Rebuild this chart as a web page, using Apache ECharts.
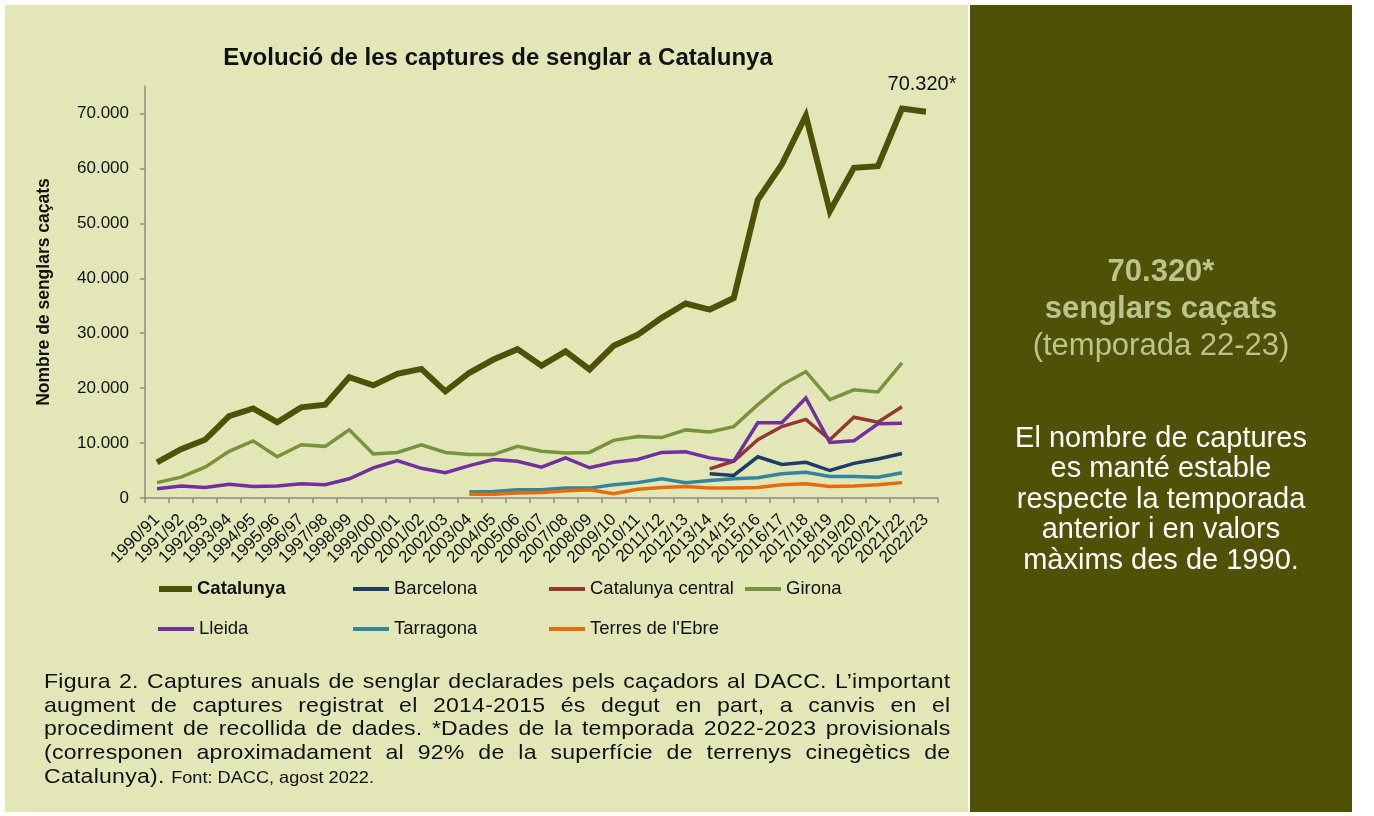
<!DOCTYPE html>
<html><head><meta charset="utf-8">
<script src="https://cdn.jsdelivr.net/npm/echarts@6/dist/echarts.min.js"></script>
<style>
body{margin:0;width:1374px;height:816px;background:#fff;position:relative;overflow:hidden;font-family:'Liberation Sans',Arial,sans-serif}
#left{position:absolute;left:5px;top:5px;width:963px;height:807px;background:#E3E7B8}
#right{position:absolute;left:970px;top:5px;width:382px;height:807px;background:#4F5206}
#chart{position:absolute;left:0;top:0;width:1374px;height:816px}
#caption{position:absolute;left:44px;top:669px;width:824px;font-size:21px;letter-spacing:0.2px;line-height:23.7px;color:#111;transform:scaleX(1.1);transform-origin:0 0}
#caption div{text-align:justify;text-align-last:justify;white-space:nowrap}
#caption div.last{text-align-last:left}
#caption span.small{font-size:16.5px;letter-spacing:0}
.rp{position:absolute;left:970px;width:382px;text-align:center}
#big{top:252px;font-size:31px;line-height:37px;font-weight:bold;color:#BAC48C}
#big .n{font-weight:normal}
#txt{top:422px;font-size:29px;line-height:30.4px;color:#fff}
</style></head>
<body>
<div id="left"></div>
<div id="right"></div>
<div id="chart"></div>
<div id="caption">
<div>Figura 2. Captures anuals de senglar declarades pels caçadors al DACC. L’important</div>
<div>augment de captures registrat el 2014-2015 és degut en part, a canvis en el</div>
<div>procediment de recollida de dades. *Dades de la temporada 2022-2023 provisionals</div>
<div>(corresponen aproximadament al 92% de la superfície de terrenys cinegètics de</div>
<div class="last">Catalunya). <span class="small">Font: DACC, agost 2022.</span></div>
</div>
<div class="rp" id="big">70.320*<br>senglars caçats<br><span class="n">(temporada 22-23)</span></div>
<div class="rp" id="txt">El nombre de captures<br>es manté estable<br>respecte la temporada<br>anterior i en valors<br>màxims des de 1990.</div>
<script>
const categories = ['1990/91','1991/92','1992/93','1993/94','1994/95','1995/96','1996/97','1997/98','1998/99','1999/00','2000/01','2001/02','2002/03','2003/04','2004/05','2005/06','2006/07','2007/08','2008/09','2009/10','2010/11','2011/12','2012/13','2013/14','2014/15','2015/16','2016/17','2017/18','2018/19','2019/20','2020/21','2021/22','2022/23'];
const catalunya = [6500,8900,10600,14900,16300,13800,16500,17000,22000,20500,22600,23500,19400,22800,25200,27100,24100,26700,23400,27700,29700,32800,35400,34300,36400,54300,60700,69600,52200,60100,60400,70900,70320];
const barcelona = [null,null,null,null,null,null,null,null,null,null,null,null,null,null,null,null,null,null,null,null,null,null,null,4400,4100,7500,6100,6500,5000,6300,7100,8100];
const catCentral = [null,null,null,null,null,null,null,null,null,null,null,null,null,null,null,null,null,null,null,null,null,null,null,5300,6700,10600,13000,14300,10600,14700,13800,16600];
const girona = [2800,3800,5600,8500,10400,7500,9700,9400,12400,8000,8300,9700,8300,7900,7900,9400,8500,8200,8300,10500,11200,11000,12400,12000,13000,17000,20600,23000,17900,19700,19300,24600];
const lleida = [1700,2200,1900,2500,2100,2200,2600,2400,3500,5500,6800,5400,4600,5900,7000,6700,5600,7300,5500,6500,7000,8300,8400,7300,6700,13700,13700,18200,10100,10400,13500,13600];
const tarragona = [null,null,null,null,null,null,null,null,null,null,null,null,null,1100,1200,1500,1500,1800,1800,2400,2800,3500,2800,3200,3500,3700,4400,4700,3900,3900,3800,4600];
const terresEbre = [null,null,null,null,null,null,null,null,null,null,null,null,null,700,700,900,1000,1300,1500,800,1600,1900,2100,1800,1800,1900,2400,2600,2100,2200,2400,2800];
const yTicks = [0,10000,20000,30000,40000,50000,60000,70000];
const lastLabel = '70.320*';

const FONT = "'Liberation Sans', Arial, sans-serif";
const fmt = v => String(v).replace(/\B(?=(\d{3})+(?!\d))/g, '.');

const seriesDefs = [
  {name:'Catalunya', data:catalunya, color:'#4F5206', width:6},
  {name:'Barcelona', data:barcelona, color:'#1F3D64', width:3.5},
  {name:'Catalunya central', data:catCentral, color:'#953735', width:3.5},
  {name:'Girona', data:girona, color:'#77933C', width:3.5},
  {name:'Lleida', data:lleida, color:'#7030A0', width:3.5},
  {name:'Tarragona', data:tarragona, color:'#31859C', width:3.5},
  {name:"Terres de l'Ebre", data:terresEbre, color:'#E46C0A', width:3.5}
];
const legendPos = [[154,574],[348,574],[544,574],[740,574],[153,614],[348,614],[544,614]];

const chart = echarts.init(document.getElementById('chart'), null, {renderer:'canvas'});
const option = {
  backgroundColor:'transparent',
  animation:false,
  title:{text:'Evolució de les captures de senglar a Catalunya', left:493, top:41, textAlign:'center',
    textStyle:{fontFamily:FONT, fontSize:24, fontWeight:'bold', color:'#111'}},
  legend: seriesDefs.map((s,i)=>({
    data:[{name:s.name, icon:'rect'}], left:legendPos[i][0], top:legendPos[i][1], itemWidth:i===0?33:36, itemHeight:i===0?6:4,
    itemGap:0, selectedMode:false,
    textStyle:{fontFamily:FONT, fontSize:18.5, color:'#111', fontWeight:i===0?'bold':'normal', lineHeight:20}
  })),
  grid:{left:145, top:86, width:793, height:412, containLabel:false},
  xAxis:{type:'category', data:categories, boundaryGap:true,
    axisLine:{lineStyle:{color:'#8C8C8C', width:1.5}},
    axisTick:{show:true, interval:0, length:5, lineStyle:{color:'#8C8C8C', width:1.5}},
    axisLabel:{interval:0, rotate:45, margin:19, fontFamily:FONT, fontSize:17, color:'#111'}},
  yAxis:{type:'value', min:0, max:75000, interval:10000,
    name:'Nombre de senglars caçats', nameLocation:'middle', nameGap:92, nameRotate:90,
    nameTextStyle:{fontFamily:FONT, fontSize:17.5, fontWeight:'bold', color:'#111'},
    axisLine:{show:true, lineStyle:{color:'#8C8C8C', width:1.5}},
    axisTick:{show:true, length:5, customValues:yTicks, lineStyle:{color:'#8C8C8C', width:1.5}},
    axisLabel:{customValues:yTicks, margin:16, fontFamily:FONT, fontSize:17, color:'#111', formatter:v=>fmt(v)},
    splitLine:{show:false}},
  series: seriesDefs.map((s,i)=>({
    name:s.name, type:'line', symbol: i===0 ? 'circle' : 'none', symbolSize:0, showSymbol: i===0, showAllSymbol:true,
    connectNulls:false, z: i===0?3:2,
    lineStyle:{color:s.color, width:s.width, join:'miter'}, itemStyle:{color:s.color},
    emphasis:{disabled:true},
    data: i===0 ? s.data.map((v,k)=> k===s.data.length-1 ? {value:v, label:{show:true, formatter:lastLabel, position:'top', distance:17, offset:[-4,0], fontFamily:FONT, fontSize:20, color:'#111'}} : v) : s.data
  }))
};
chart.setOption(option);
</script>
</body></html>
